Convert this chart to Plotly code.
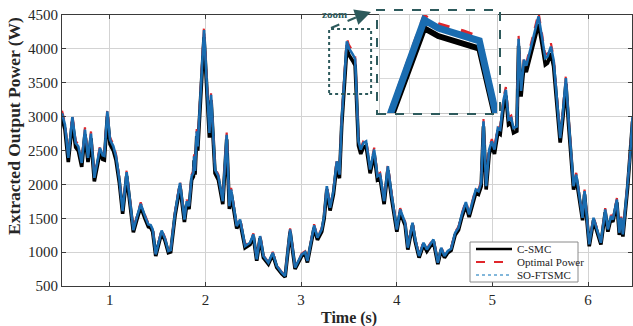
import plotly.graph_objects as go

# ---- data ----
time_s = [0.500, 0.531, 0.566, 0.608, 0.643, 0.671, 0.706, 0.740, 0.772, 0.803,
          0.838, 0.870, 0.897, 0.925, 0.943, 0.974, 1.002, 1.037, 1.065, 1.100,
          1.134, 1.176, 1.211, 1.246, 1.281, 1.323, 1.368, 1.403, 1.427, 1.448,
          1.480, 1.518, 1.542, 1.577, 1.612, 1.637, 1.682, 1.734, 1.780, 1.804,
          1.828, 1.856, 1.874, 1.881, 1.891, 1.909, 1.919, 1.985, 2.041, 2.059,
          2.100, 2.135, 2.181, 2.222, 2.250, 2.268, 2.327, 2.362, 2.414, 2.466,
          2.501, 2.536, 2.571, 2.606, 2.658, 2.704, 2.745, 2.798, 2.833, 2.885,
          2.937, 2.972, 3.007, 3.042, 3.066, 3.136, 3.171, 3.216, 3.241, 3.269,
          3.303, 3.338, 3.373, 3.401, 3.425, 3.478, 3.500, 3.540, 3.565, 3.600,
          3.624, 3.652, 3.680, 3.722, 3.764, 3.798, 3.826, 3.868, 3.907, 3.948,
          4.001, 4.036, 4.088, 4.116, 4.165, 4.193, 4.234, 4.280, 4.315, 4.384,
          4.430, 4.465, 4.499, 4.534, 4.569, 4.611, 4.646, 4.681, 4.723, 4.757,
          4.792, 4.827, 4.855, 4.883, 4.907, 4.935, 4.967, 4.994, 5.022, 5.057,
          5.082, 5.117, 5.141, 5.169, 5.197, 5.221, 5.256, 5.274, 5.300, 5.330,
          5.355, 5.413, 5.448, 5.483, 5.518, 5.553, 5.577, 5.612, 5.640, 5.675,
          5.709, 5.737, 5.769, 5.797, 5.831, 5.849, 5.877, 5.912, 5.943, 5.964,
          5.988, 6.013, 6.058, 6.093, 6.135, 6.180, 6.208, 6.239, 6.260, 6.302,
          6.327, 6.348, 6.365, 6.414, 6.442, 6.466]

so_ftsmc = [3050, 2880, 2390, 2994, 2611, 2560, 2316, 2807, 2390, 2748,
            2096, 2316, 2537, 2430, 2420, 3077, 2660, 2562, 2414, 2071,
            1605, 2179, 1728, 1325, 1507, 1713, 1531, 1409, 1400, 1335,
            967, 1212, 1320, 1200, 1016, 1030, 1580, 2022, 1482, 1752,
            1678, 2120, 2170, 2414, 2200, 2782, 2560, 4279, 2758, 3322,
            2218, 2120, 1752, 2733, 1678, 1924, 1384, 1482, 1090, 1139,
            1261, 893, 1237, 942, 844, 991, 795, 697, 648, 1335,
            771, 869, 967, 1001, 869, 1394, 1212, 1335, 1531, 1973,
            1654, 1899, 2341, 2144, 2954, 4110, 4010, 3920, 3850, 2635,
            2513, 2611, 2635, 2218, 2513, 2120, 2144, 1752, 2267, 1826,
            1335, 1629, 1433, 1065, 1433, 1188, 942, 1139, 1040, 1188,
            844, 1065, 942, 1016, 1050, 1286, 1360, 1556, 1737, 1556,
            1728, 1924, 1899, 2022, 2930, 1973, 2513, 2635, 2513, 2832,
            2807, 3249, 3396, 2954, 2979, 2832, 2856, 4150, 3380, 3840,
            3750, 4083, 4279, 4480, 4181, 3862, 3887, 4034, 3838, 3298,
            2684, 3052, 3568, 2954, 2218, 1973, 2144, 1826, 1507, 1899,
            1482, 1114, 1507, 1335, 1139, 1629, 1335, 1531, 1482, 1777,
            1286, 1507, 1261, 2003, 2464, 3005]

optimal_power = [3087, 2915, 2419, 3030, 2642, 2591, 2344, 2841, 2419, 2781,
                 2121, 2344, 2567, 2459, 2449, 3114, 2692, 2593, 2443, 2096,
                 1624, 2205, 1749, 1341, 1525, 1734, 1549, 1426, 1417, 1351,
                 979, 1227, 1336, 1214, 1028, 1042, 1599, 2046, 1500, 1773,
                 1698, 2145, 2196, 2443, 2226, 2815, 2591, 4330, 2791, 3362,
                 2245, 2145, 1773, 2766, 1698, 1947, 1401, 1500, 1103, 1153,
                 1276, 904, 1252, 953, 854, 1003, 805, 705, 656, 1351,
                 780, 879, 979, 1013, 879, 1411, 1227, 1351, 1549, 1997,
                 1674, 1922, 2369, 2170, 2989, 4159, 4058, 3967, 3896, 2667,
                 2543, 2642, 2667, 2245, 2543, 2145, 2170, 1773, 2294, 1848,
                 1351, 1649, 1450, 1078, 1450, 1202, 953, 1153, 1052, 1202,
                 854, 1078, 953, 1028, 1063, 1301, 1376, 1575, 1758, 1575,
                 1749, 1947, 1922, 2046, 2965, 1997, 2543, 2667, 2543, 2866,
                 2841, 3288, 3437, 2989, 3015, 2866, 2890, 4200, 3421, 3886,
                 3795, 4132, 4330, 4534, 4231, 3908, 3934, 4082, 3884, 3338,
                 2716, 3089, 3611, 2989, 2245, 1997, 2170, 1848, 1525, 1922,
                 1500, 1127, 1525, 1351, 1153, 1649, 1351, 1549, 1500, 1798,
                 1301, 1525, 1276, 2027, 2494, 3041]

c_smc = [2974, 2808, 2330, 2919, 2546, 2496, 2258, 2737, 2330, 2679,
         2044, 2258, 2474, 2369, 2359, 3000, 2593, 2498, 2354, 2019,
         1565, 2125, 1685, 1292, 1469, 1670, 1493, 1374, 1365, 1302,
         943, 1182, 1287, 1170, 991, 1004, 1540, 1971, 1445, 1708,
         1636, 2067, 2116, 2354, 2145, 2712, 2496, 4172, 2689, 3239,
         2163, 2067, 1708, 2665, 1636, 1876, 1349, 1445, 1063, 1111,
         1229, 871, 1206, 918, 823, 966, 775, 680, 632, 1302,
         752, 847, 943, 976, 847, 1359, 1182, 1302, 1493, 1924,
         1613, 1852, 2282, 2090, 2880, 4007, 3910, 3822, 3754, 2569,
         2450, 2546, 2569, 2163, 2450, 2067, 2090, 1708, 2210, 1780,
         1302, 1588, 1397, 1038, 1397, 1158, 918, 1111, 1014, 1158,
         823, 1038, 918, 991, 1024, 1254, 1326, 1517, 1694, 1517,
         1685, 1876, 1852, 1971, 2857, 1924, 2450, 2569, 2450, 2761,
         2737, 3168, 3311, 2880, 2905, 2761, 2785, 4046, 3295, 3744,
         3656, 3981, 4172, 4368, 4076, 3765, 3790, 3933, 3742, 3216,
         2617, 2976, 3479, 2880, 2163, 1924, 2090, 1780, 1469, 1852,
         1445, 1086, 1469, 1302, 1111, 1588, 1302, 1493, 1445, 1733,
         1254, 1469, 1229, 1953, 2402, 2930]

series_names = ["C-SMC", "Optimal Power", "SO-FTSMC"]
x_ticks = [1, 2, 3, 4, 5, 6]
y_ticks = [500, 1000, 1500, 2000, 2500, 3000, 3500, 4000, 4500]

# zoom window (main-axis data coordinates) and inset view ranges
zoom_box_t = [3.293, 3.732]
zoom_box_p = [3334, 4293]
inset_t_range = [3.408, 3.593]
inset_p_range = [2950, 4172]

BLACK = "#000000"
RED = "#e0262b"
BLUE = "#1a6cb0"
TEAL = "#2d5a5c"
SERIF = "Liberation Serif, Times New Roman, serif"

# pixel -> paper helpers (plot area: x 62..632, y 15..286)
def px(x):
    return (x - 62) / 570.0

def py(y):
    return (286 - y) / 271.0

fig = go.Figure()

# ---- main axes ----
fig.add_trace(go.Scatter(x=time_s, y=c_smc, mode="lines", showlegend=False,
                         line=dict(color=BLACK, width=3.6)))
fig.add_trace(go.Scatter(x=time_s, y=optimal_power, mode="lines", showlegend=False,
                         line=dict(color=RED, width=2.2, dash="dash")))
fig.add_trace(go.Scatter(x=time_s, y=so_ftsmc, mode="lines", showlegend=False,
                         line=dict(color=BLUE, width=2.6)))

# ---- inset axes ----
fig.add_trace(go.Scatter(x=time_s, y=c_smc, mode="lines", showlegend=False,
                         xaxis="x2", yaxis="y2", line=dict(color=BLACK, width=6)))
fig.add_trace(go.Scatter(x=time_s, y=optimal_power, mode="lines", showlegend=False,
                         xaxis="x2", yaxis="y2", line=dict(color=RED, width=4, dash="dash")))
fig.add_trace(go.Scatter(x=time_s, y=so_ftsmc, mode="lines", showlegend=False,
                         xaxis="x2", yaxis="y2", line=dict(color=BLUE, width=7)))

axis_common = dict(showgrid=True, gridcolor="#d3d3d3", gridwidth=1,
                   showline=True, linecolor="#3a3a3a", linewidth=1, mirror="ticks",
                   ticks="inside", ticklen=4, tickcolor="#3a3a3a",
                   tickfont=dict(family=SERIF, size=15, color="#262626"),
                   zeroline=False)

fig.update_layout(
    width=633, height=326,
    margin=dict(l=62, r=1, t=15, b=40),
    paper_bgcolor="white", plot_bgcolor="white",
    showlegend=False,
    xaxis=dict(range=[0.5, 6.46], tickvals=x_ticks, domain=[0, 1], **axis_common),
    yaxis=dict(range=[500, 4500], tickvals=y_ticks, domain=[0, 1], **axis_common),
    xaxis2=dict(range=inset_t_range, domain=[px(380), px(497)],
                anchor="y2", showticklabels=False, ticks="",
                tick0=3.455, dtick=0.047,
                showgrid=True, gridcolor="#d9d9d9", zeroline=False,
                showline=True, linecolor="#c8c8c8", mirror=True),
    yaxis2=dict(range=inset_p_range, domain=[py(113), 1.0],
                anchor="x2", showticklabels=False, ticks="",
                tickvals=[3386, 3736],
                showgrid=True, gridcolor="#d9d9d9", zeroline=False,
                showline=True, linecolor="#c8c8c8", mirror=True),
)

# axis titles
fig.add_annotation(text="<b>Time (s)</b>", xref="paper", yref="paper",
                   x=px(349), y=py(318), showarrow=False,
                   xanchor="center", yanchor="middle",
                   font=dict(family=SERIF, size=16, color="#262626"))
fig.add_annotation(text="<b>Extracted Output Power (W)</b>", xref="paper", yref="paper",
                   x=px(14), y=py(126), showarrow=False, textangle=-90,
                   xanchor="center", yanchor="middle",
                   font=dict(family=SERIF, size=17.5, color="#262626"))

# zoom source box
fig.add_shape(type="rect", xref="x", yref="y",
              x0=zoom_box_t[0], x1=zoom_box_t[1], y0=zoom_box_p[0], y1=zoom_box_p[1],
              line=dict(color=TEAL, width=2, dash="dot"))
# inset frame
fig.add_shape(type="rect", xref="paper", yref="paper",
              x0=px(377), x1=px(500), y0=py(114), y1=py(10),
              line=dict(color=TEAL, width=2, dash="dash"))
# dashed connector
fig.add_shape(type="line", xref="paper", yref="paper",
              x0=px(331), y0=py(28), x1=px(364), y1=py(14),
              line=dict(color=TEAL, width=2, dash="dash"))
# arrow head
fig.add_annotation(xref="paper", yref="paper", x=px(371), y=py(12),
                   ax=-9, ay=3, showarrow=True, arrowhead=2, arrowsize=1.6,
                   arrowwidth=2, arrowcolor=TEAL, text="")
fig.add_annotation(text="<b>zoom</b>", xref="paper", yref="paper",
                   x=px(334), y=py(14), showarrow=False,
                   xanchor="center", yanchor="middle",
                   font=dict(family=SERIF, size=11, color=TEAL))

# ---- legend (drawn manually for compact MATLAB-like rows) ----
fig.add_shape(type="rect", xref="paper", yref="paper",
              x0=px(470), x1=px(578), y0=py(282), y1=py(242),
              fillcolor="white", line=dict(color="#8a8a8a", width=1))
legend_styles = [dict(color=BLACK, width=2.5),
                 dict(color=RED, width=1.8, dash="dash"),
                 dict(color="#5aa0d0", width=1.5, dash="dot")]
legend_rows = [249, 262, 275]
for name, style, ry in zip(series_names, legend_styles, legend_rows):
    fig.add_shape(type="line", xref="paper", yref="paper",
                  x0=px(476), x1=px(512), y0=py(ry), y1=py(ry), line=style)
    fig.add_annotation(text=name, xref="paper", yref="paper",
                       x=px(515), y=py(ry), showarrow=False,
                       xanchor="left", yanchor="middle",
                       font=dict(family=SERIF, size=11, color="#222"))

fig.write_html("out.html")
